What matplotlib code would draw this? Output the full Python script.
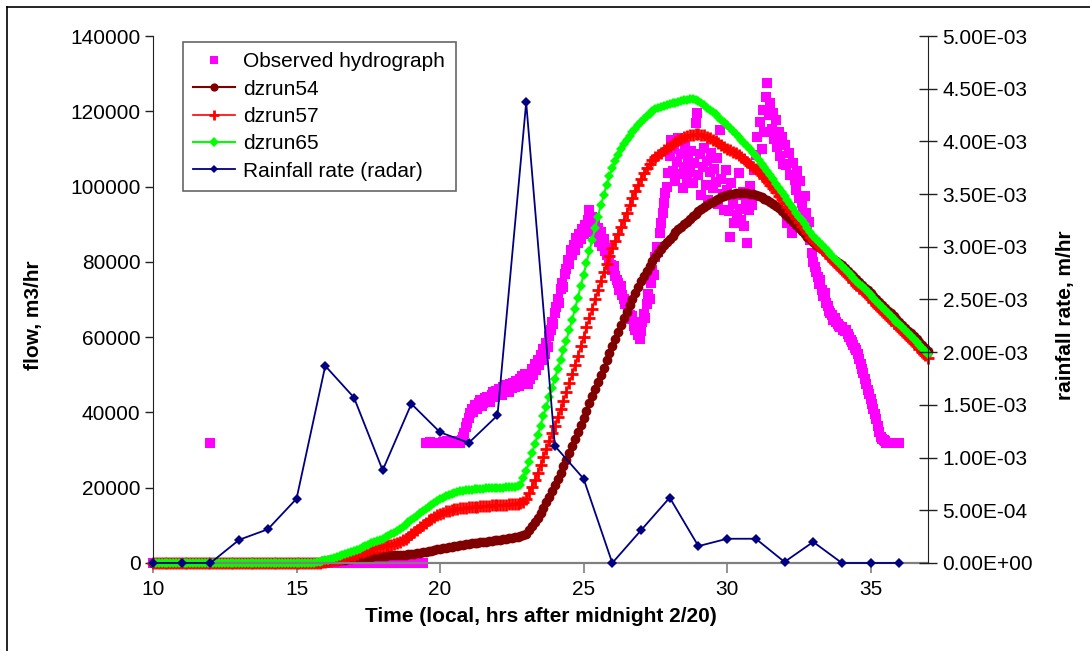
import matplotlib
matplotlib.use("Agg")
import matplotlib.pyplot as plt
import numpy as np
from matplotlib.lines import Line2D
from matplotlib.ticker import FuncFormatter, MultipleLocator

plt.rcParams["font.family"] = ["Liberation Sans", "DejaVu Sans"]

# model runs, flow in 1000 m3/hr, every 0.1 hr from 10.0 to 37.0 (one row per hour)
dzrun54 = [
    0, 0, 0, 0, 0, 0, 0, 0, 0, 0,
    0, 0, 0, 0, 0, 0, 0, 0, 0, 0,
    0, 0, 0, 0, 0, 0, 0, 0, 0, 0,
    0, 0, 0, 0, 0, 0, 0, 0, 0, 0,
    0, 0, 0, 0, 0, 0, 0, 0, 0, 0,
    0, 0, 0, 0, 0, 0, 0, 0, 0, 0.1,
    0.2, 0.3, 0.4, 0.5, 0.6, 0.7, 0.8, 0.9, 1.0, 1.1,
    1.2, 1.3, 1.4, 1.5, 1.6, 1.7, 1.7, 1.8, 1.8, 1.9,
    1.9, 1.9, 2.0, 2.0, 2.0, 2.0, 2.1, 2.1, 2.2, 2.3,
    2.4, 2.5, 2.6, 2.7, 2.8, 3.0, 3.1, 3.3, 3.4, 3.6,
    3.7, 3.9, 4.0, 4.2, 4.3, 4.5, 4.6, 4.8, 4.9, 5.0,
    5.1, 5.2, 5.3, 5.4, 5.5, 5.6, 5.7, 5.8, 5.9, 6.0,
    6.1, 6.2, 6.3, 6.4, 6.6, 6.7, 6.9, 7.0, 7.2, 7.4,
    7.8, 8.7, 9.7, 10.8, 12.0, 13.3, 14.7, 16.1, 17.6, 19.2,
    20.8, 22.4, 24.0, 25.7, 27.4, 29.2, 31.0, 32.9, 34.8, 36.7,
    38.6, 40.5, 42.4, 44.3, 46.2, 48.1, 50.0, 51.9, 53.8, 55.7,
    57.6, 59.5, 61.4, 63.2, 65.0, 66.8, 68.5, 70.2, 71.8, 73.4,
    74.9, 76.3, 77.7, 79.0, 80.2, 81.3, 82.4, 83.4, 84.4, 85.3,
    86.2, 87.0, 87.8, 88.6, 89.3, 90.0, 90.7, 91.4, 92.1, 92.8,
    93.4, 94.0, 94.6, 95.1, 95.6, 96.0, 96.4, 96.8, 97.1, 97.4,
    97.7, 97.9, 98.1, 98.2, 98.3, 98.3, 98.3, 98.2, 98.1, 97.9,
    97.7, 97.4, 97.1, 96.7, 96.3, 95.8, 95.3, 94.8, 94.2, 93.5,
    92.8, 92.1, 91.4, 90.6, 89.8, 89.0, 88.2, 87.5, 86.7, 86.0,
    85.3, 84.6, 83.9, 83.3, 82.6, 82.0, 81.4, 80.8, 80.3, 79.7,
    79.2, 78.4, 77.7, 76.9, 76.2, 75.4, 74.6, 73.9, 73.1, 72.4,
    71.6, 70.8, 70.1, 69.3, 68.6, 67.8, 67.0, 66.3, 65.5, 64.8,
    64.0, 63.2, 62.5, 61.7, 61.0, 60.2, 59.4, 58.7, 57.9, 57.2,
    56.4,
]

dzrun57 = [
    0, 0, 0, 0, 0, 0, 0, 0, 0, 0,
    0, 0, 0, 0, 0, 0, 0, 0, 0, 0,
    0, 0, 0, 0, 0, 0, 0, 0, 0, 0,
    0, 0, 0, 0, 0, 0, 0, 0, 0, 0,
    0, 0, 0, 0, 0, 0, 0, 0, 0, 0,
    0, 0, 0, 0, 0, 0, 0, 0, 0.1, 0.2,
    0.3, 0.4, 0.6, 0.7, 0.9, 1.0, 1.2, 1.5, 1.7, 2.0,
    2.2, 2.5, 2.8, 3.0, 3.3, 3.5, 3.7, 3.9, 4.1, 4.3,
    4.5, 4.6, 4.8, 4.9, 5.1, 5.3, 5.6, 6.0, 6.5, 7.0,
    7.6, 8.2, 8.8, 9.5, 10.1, 10.7, 11.3, 11.8, 12.3, 12.7,
    13.1, 13.4, 13.7, 13.9, 14.1, 14.3, 14.4, 14.5, 14.6, 14.7,
    14.8, 14.9, 15.0, 15.0, 15.1, 15.1, 15.2, 15.2, 15.3, 15.3,
    15.4, 15.4, 15.5, 15.5, 15.6, 15.6, 15.7, 15.8, 15.9, 16.2,
    17.0, 18.6, 20.3, 22.0, 24.0, 26.0, 28.1, 30.2, 32.3, 34.4,
    36.5, 38.7, 40.9, 43.1, 45.4, 47.7, 50.1, 52.6, 55.1, 57.6,
    60.1, 62.6, 65.1, 67.6, 70.1, 72.6, 75.0, 77.3, 79.5, 81.6,
    83.6, 85.5, 87.4, 89.3, 91.2, 93.1, 95.0, 96.9, 98.7, 100.4,
    102.0, 103.5, 104.9, 106.1, 107.1, 107.8, 108.4, 109.0, 109.6, 110.2,
    110.8, 111.3, 111.8, 112.3, 112.7, 113.1, 113.4, 113.6, 113.8, 113.9,
    113.9, 113.8, 113.6, 113.3, 112.9, 112.5, 112.0, 111.5, 111.0, 110.5,
    110.0, 109.6, 109.2, 108.8, 108.3, 107.8, 107.2, 106.5, 105.8, 105.2,
    104.6, 103.9, 103.1, 102.3, 101.4, 100.5, 99.6, 98.6, 97.6, 96.6,
    95.6, 94.6, 93.6, 92.6, 91.6, 90.6, 89.6, 88.6, 87.6, 86.7,
    85.8, 85.0, 84.2, 83.4, 82.6, 81.8, 81.0, 80.2, 79.4, 78.6,
    77.8, 77.0, 76.2, 75.5, 74.7, 73.9, 73.1, 72.4, 71.6, 70.8,
    70.0, 69.3, 68.5, 67.7, 66.9, 66.2, 65.4, 64.6, 63.8, 63.1,
    62.3, 61.5, 60.7, 60.0, 59.2, 58.4, 57.6, 56.9, 56.1, 55.3,
    54.5,
]

dzrun65 = [
    0, 0, 0, 0, 0, 0, 0, 0, 0, 0,
    0, 0, 0, 0, 0, 0, 0, 0, 0, 0,
    0, 0, 0, 0, 0, 0, 0, 0, 0, 0,
    0, 0, 0, 0, 0, 0, 0, 0, 0, 0,
    0, 0, 0, 0, 0, 0, 0, 0, 0, 0,
    0, 0, 0, 0, 0, 0, 0.1, 0.2, 0.3, 0.5,
    0.7, 0.9, 1.1, 1.3, 1.5, 1.8, 2.1, 2.4, 2.7, 2.9,
    3.2, 3.5, 3.8, 4.2, 4.5, 4.9, 5.2, 5.6, 5.9, 6.2,
    6.5, 6.8, 7.2, 7.6, 8.0, 8.5, 9.0, 9.6, 10.2, 10.8,
    11.4, 12.0, 12.6, 13.2, 13.8, 14.4, 15.0, 15.5, 16.0, 16.5,
    16.9, 17.3, 17.7, 18.0, 18.3, 18.6, 18.8, 19.0, 19.2, 19.3,
    19.4, 19.5, 19.6, 19.6, 19.7, 19.7, 19.8, 19.8, 19.8, 19.9,
    19.9, 20.0, 20.0, 20.1, 20.2, 20.2, 20.3, 20.4, 20.6, 22.5,
    24.5, 26.8, 29.2, 31.6, 34.0, 36.5, 39.0, 41.5, 44.0, 46.5,
    49.0, 51.5, 54.0, 56.5, 59.1, 61.8, 64.6, 67.5, 70.5, 73.5,
    76.6, 79.7, 82.8, 85.9, 89.0, 92.0, 95.0, 97.8, 100.4, 102.8,
    104.9, 106.8, 108.5, 110.0, 111.3, 112.5, 113.5, 114.5, 115.4, 116.3,
    117.1, 117.9, 118.7, 119.4, 120.0, 120.5, 120.9, 121.2, 121.5, 121.7,
    121.9, 122.1, 122.3, 122.5, 122.7, 122.9, 123.1, 123.3, 123.3, 123.0,
    122.6, 122.1, 121.6, 121.0, 120.4, 119.8, 119.2, 118.5, 117.8, 117.1,
    116.4, 115.6, 114.8, 114.0, 113.2, 112.4, 111.6, 110.7, 109.9, 109.0,
    108.1, 107.1, 106.1, 105.1, 104.1, 103.0, 101.9, 100.8, 99.7, 98.6,
    97.5, 96.4, 95.3, 94.2, 93.1, 92.0, 91.0, 90.0, 89.0, 88.0,
    87.0, 86.1, 85.3, 84.5, 83.7, 82.9, 82.1, 81.3, 80.5, 79.7,
    78.9, 78.1, 77.4, 76.6, 75.8, 75.0, 74.2, 73.5, 72.7, 71.9,
    71.1, 70.3, 69.6, 68.8, 68.0, 67.2, 66.5, 65.7, 64.9, 64.1,
    63.4, 62.6, 61.8, 61.0, 60.3, 59.5, 58.7, 57.9, 57.1, 56.4,
    55.6,
]

# observed flow before the record starts, every 0.1 hr from 10.0 to 19.4
obs_early = [
    0, 0, 0, 0, 0, 0, 0, 0, 0, 0,
    0, 0, 0, 0, 0, 0, 0, 0, 0, 0,
    31.8, 0, 0, 0, 0, 0, 0, 0, 0, 0,
    0, 0, 0, 0, 0, 0, 0, 0, 0, 0,
    0, 0, 0, 0, 0, 0, 0, 0, 0, 0,
    0, 0, 0, 0, 0, 0, 0, 0, 0, 0,
    0, 0, 0, 0, 0, 0, 0, 0, 0, 0,
    0, 0, 0, 0, 0, 0, 0, 0, 0, 0,
    0, 0, 0, 0, 0, 0, 0, 0, 0, 0,
    0, 0, 0, 0, 0,
]

# observed hydrograph, every 0.05 hr from 19.5 to 36.0
observed = [
    31.8, 31.8, 31.8, 32.2, 31.8, 31.8, 31.8, 32.0, 31.8, 31.8,
    31.8, 31.8, 32.2, 31.8, 31.8, 32.4, 31.8, 31.8, 32.0, 31.8, 32.3, 31.8, 32.5, 31.8, 32.0, 32.6, 33.4, 34.5, 36.0, 37.2,
    38.5, 39.8, 41.0, 40.2, 42.0, 41.5, 40.8, 42.6, 43.2, 41.8, 42.4, 43.8, 42.9, 44.2, 43.5, 42.8, 44.6, 45.3, 44.0, 45.8,
    44.9, 46.2, 45.4, 44.6, 46.8, 45.9, 47.2, 46.0, 45.3, 47.6, 46.4, 47.9, 46.8, 48.3, 47.5, 46.9, 48.8, 49.6, 48.2, 50.3,
    49.0, 47.6, 50.2, 48.8, 51.5, 49.9, 52.8, 51.2, 53.9, 52.6, 55.2, 54.0, 56.8, 55.6, 58.4, 57.3, 60.2, 62.0, 64.0, 63.5,
    66.5, 68.0, 70.2, 69.1, 72.8, 74.5, 73.4, 76.9, 78.2, 80.6, 79.5, 83.1, 81.8, 84.6, 83.2, 86.4, 85.0, 87.3, 86.1, 88.6,
    87.4, 89.8, 88.2, 91.0, 93.9, 89.5, 91.8, 87.9, 90.4, 86.6, 88.9, 85.4, 87.8, 84.1, 86.2, 83.0, 81.9, 83.6, 80.5, 79.2,
    77.8, 79.0, 76.3, 75.1, 74.4, 72.6, 73.5, 71.2, 70.0, 68.9, 69.4, 67.1, 66.0, 64.8, 65.5, 62.9, 61.8, 63.4, 60.6, 59.6,
    61.5, 64.0, 66.2, 65.0, 68.8, 71.5, 70.2, 74.3, 77.8, 76.5, 81.4, 84.0, 82.6, 87.6, 90.2, 92.9, 95.6, 98.4, 100.0, 103.5,
    108.0, 112.4, 104.2, 110.1, 101.6, 106.5, 113.0, 103.4, 108.7, 99.5, 105.2, 110.8, 102.3, 107.4, 104.0, 109.5, 101.0, 106.2, 116.8, 119.5,
    103.2, 108.6, 97.8, 105.1, 110.3, 100.4, 106.9, 96.5, 103.8, 109.0, 99.6, 104.7, 101.2, 107.5, 95.4, 115.0, 102.1, 98.0, 93.8, 104.5,
    99.2, 93.6, 86.7, 101.0, 95.5, 90.2, 97.8, 92.4, 103.6, 94.0, 91.1, 98.5, 89.6, 96.3, 84.9, 93.8, 100.2, 95.0, 97.6, 104.4,
    108.5, 113.3, 104.4, 117.2, 110.0, 120.4, 114.6, 123.8, 127.4, 118.9, 122.1, 115.3, 119.6, 112.6, 117.7, 110.4, 114.5, 108.2, 113.3, 106.1,
    111.0, 105.7, 90.2, 108.8, 103.0, 87.6, 106.3, 101.8, 99.1, 104.2, 97.0, 101.5, 95.6, 93.0, 97.4, 92.9, 88.5, 90.6, 85.8, 82.4,
    80.0, 78.7, 77.2, 75.9, 74.0, 75.2, 72.4, 70.8, 71.6, 69.0, 68.2, 67.0, 66.4, 65.8, 64.6, 65.2, 64.0, 63.6, 63.0, 62.6,
    62.8, 62.0, 61.5, 61.9, 60.8, 60.0, 59.2, 58.6, 57.9, 57.0, 56.6, 55.4, 54.2, 52.9, 51.5, 50.4, 49.0, 47.5, 46.0, 44.8,
    43.6, 42.3, 41.0, 39.6, 38.2, 36.5, 34.8, 33.6, 32.9, 32.6, 32.3, 32.0, 31.8, 31.8, 31.8, 31.8, 31.8, 31.8, 31.8, 31.8,
    31.8,
]

# hourly radar rainfall, 1e-3 m/hr
rain_hours = [10, 11, 12, 13, 14, 15, 16, 17, 18, 19, 20, 21, 22, 23,
              24, 25, 26, 27, 28, 29, 30, 31, 32, 33, 34, 35, 36]
rain = [0, 0, 0, 0.22, 0.32, 0.61, 1.87, 1.57, 0.88, 1.51, 1.24, 1.14, 1.40, 4.37,
        1.11, 0.80, 0.0, 0.31, 0.62, 0.16, 0.23, 0.23, 0.01, 0.20, 0.0, 0.0, 0.0]

t_model = 10 + 0.1 * np.arange(len(dzrun65))
t_early = 10 + 0.1 * np.arange(len(obs_early))
t_obs = 19.5 + 0.05 * np.arange(len(observed))

fig = plt.figure(figsize=(10.9, 6.51), dpi=100)
ax = fig.add_axes([0.1404, 0.1352, 0.7110, 0.8095])
ax2 = ax.twinx()

obs_kw = dict(ls="none", marker="s", ms=6.6, mew=0, color="#FF00FF", clip_on=False)
ax.plot(t_early, np.array(obs_early) * 1000, **obs_kw)
h_obs, = ax.plot(t_obs, np.array(observed) * 1000, **obs_kw)
h54, = ax.plot(t_model, np.array(dzrun54) * 1000, color="#800000", lw=1.5,
               marker="o", ms=7, mew=0, clip_on=False)
h57, = ax.plot(t_model, np.array(dzrun57) * 1000, color="#FF0000", lw=1.2,
               marker="+", ms=8, mew=2, clip_on=False)
h65, = ax.plot(t_model, np.array(dzrun65) * 1000, color="#00FF00", lw=1.5,
               marker="D", ms=5.6, mew=0, clip_on=False)
h_rain, = ax2.plot(rain_hours, np.array(rain) / 1000, color="#000080", lw=1.3,
                   marker="D", ms=5, mew=0, clip_on=False)

ax.set_xlim(10, 37)
ax.set_ylim(0, 140000)
ax2.set_ylim(0, 0.005)
ax.xaxis.set_major_locator(MultipleLocator(5))
ax.yaxis.set_major_locator(MultipleLocator(20000))
ax2.yaxis.set_major_locator(MultipleLocator(0.0005))
ax2.yaxis.set_major_formatter(FuncFormatter(lambda v, p: "%.2E" % v))

for s in ["top", "right"]:
    ax.spines[s].set_visible(False)
for s in ["top", "left", "bottom"]:
    ax2.spines[s].set_visible(False)
ax.spines["left"].set_color("#202020")
ax.spines["bottom"].set_color("#808080")
ax.spines["bottom"].set_linewidth(1.6)
ax2.spines["right"].set_color("#202020")

ax.tick_params(axis="y", direction="out", length=6, width=1, labelsize=15, pad=3, color="#202020")
ax.tick_params(axis="x", direction="out", length=7, width=1.2, labelsize=15, pad=5, color="#808080")
ax2.tick_params(axis="y", direction="inout", length=13, width=1, labelsize=15, pad=4, color="#202020")

ax.set_xlabel("Time (local, hrs after midnight 2/20)", fontsize=15, fontweight="bold", labelpad=6)
ax.set_ylabel("flow, m3/hr", fontsize=15, fontweight="bold")
ax2.set_ylabel("rainfall rate, m/hr", fontsize=15, fontweight="bold")
ax.yaxis.set_label_coords(-0.142, 0.47)
ax2.yaxis.set_label_coords(1.165, 0.47)

leg = ax2.legend(
    [h_obs, h54, h57, h65, h_rain],
    ["Observed hydrograph", "dzrun54", "dzrun57", "dzrun65", "Rainfall rate (radar)"],
    loc="upper left",
    bbox_to_anchor=(0.0387, 0.9886),
    borderaxespad=0,
    fontsize=15,
    fancybox=False,
    edgecolor="#404040",
    handlelength=2.0,
    handletextpad=0.4,
    labelspacing=0.4,
    borderpad=0.5,
    markerscale=0.85,
)
leg.get_frame().set_linewidth(1.2)

# chart-area border
fig.add_artist(Line2D([7 / 1090, 1], [1 - 7 / 651, 1 - 7 / 651], transform=fig.transFigure, color="black", lw=1.2))
fig.add_artist(Line2D([7 / 1090, 7 / 1090], [0, 1 - 7 / 651], transform=fig.transFigure, color="black", lw=1.2))

fig.savefig("out.png", dpi=100)
